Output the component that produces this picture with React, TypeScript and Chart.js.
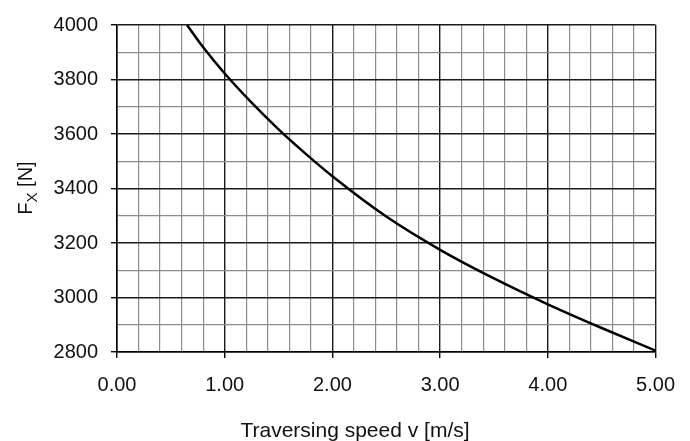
import React, { useEffect, useRef } from "react";
import { Chart, registerables } from "chart.js";

Chart.register(...registerables);

const speedV = [0.65, 0.8, 1.0, 1.25, 1.5, 1.75, 2.0, 2.5, 3.0, 3.5, 4.0, 4.5, 5.0];
const forceFx = [4000, 3918, 3822, 3715, 3617, 3528, 3445, 3297, 3175, 3070, 2975, 2888, 2805];

const xMin = 0;
const xMax = 5;
const xStep = 0.2;
const yMin = 2800;
const yMax = 4000;
const yStep = 100;
const yLabelStep = 200;

const xTitle = "Traversing speed v [m/s]";
const yTitleMain = "F";
const yTitleSub = "X";
const yTitleRest = " [N]";

const FONT = "'Liberation Sans', Arial, Helvetica, sans-serif";
const TEXT = "#111";
const MAJOR = "#1a1a1a";
const MINOR = "#8c8c8c";

const isInt = (v: number) => Math.abs(v - Math.round(v)) < 1e-6;
const isYMajor = (v: number) => Math.abs(v / yLabelStep - Math.round(v / yLabelStep)) < 1e-6;

const titlesPlugin = {
  id: "titles",
  afterDraw(chart: any) {
    const ctx = chart.ctx as CanvasRenderingContext2D;
    ctx.save();
    ctx.fillStyle = TEXT;
    // x title
    ctx.font = `21px ${FONT}`;
    ctx.textAlign = "center";
    ctx.textBaseline = "alphabetic";
    ctx.fillText(xTitle, 355, 437);
    // y title with subscript
    ctx.translate(32, 188);
    ctx.rotate(-Math.PI / 2);
    const big = `20px ${FONT}`;
    const small = `15px ${FONT}`;
    ctx.font = big;
    const wF = ctx.measureText(yTitleMain).width;
    const wR = ctx.measureText(yTitleRest).width;
    ctx.font = small;
    const wS = ctx.measureText(yTitleSub).width;
    const total = wF + wS + wR;
    let x = -total / 2;
    ctx.textAlign = "left";
    ctx.font = big;
    ctx.fillText(yTitleMain, x, 0);
    x += wF;
    ctx.font = small;
    ctx.fillText(yTitleSub, x, 5);
    x += wS;
    ctx.font = big;
    ctx.fillText(yTitleRest, x, 0);
    ctx.restore();
  },
};

export default function App() {
  const ref = useRef<HTMLCanvasElement | null>(null);
  useEffect(() => {
    if (!ref.current) return;
    const chart = new Chart(ref.current, {
      type: "line",
      data: {
        datasets: [
          {
            data: speedV.map((v, i) => ({ x: v, y: forceFx[i] })),
            borderColor: "#000",
            borderWidth: 2.5,
            pointRadius: 0,
            cubicInterpolationMode: "monotone",
            fill: false,
          },
        ],
      },
      options: {
        animation: false,
        responsive: false,
        layout: { padding: { top: 22, right: 32, left: 0, bottom: 0 } },
        plugins: { legend: { display: false }, tooltip: { enabled: false } },
        scales: {
          x: {
            type: "linear",
            min: xMin,
            max: xMax,
            afterFit: (s: any) => {
              s.height = 89;
            },
            border: { display: true, color: "#000", width: 1.5 },
            grid: {
              color: (c: any) => (isInt(c.tick.value) ? MAJOR : MINOR),
              lineWidth: (c: any) => (isInt(c.tick.value) ? 1.4 : 1.2),
              tickColor: (c: any) => (isInt(c.tick.value) ? "#000" : "rgba(0,0,0,0)"),
              tickLength: 6,
            },
            ticks: {
              stepSize: xStep,
              autoSkip: false,
              maxRotation: 0,
              padding: 15,
              color: TEXT,
              font: { family: FONT, size: 20 },
              callback: (v: any) => (isInt(Number(v)) ? Number(v).toFixed(2) : ""),
            },
          },
          y: {
            type: "linear",
            min: yMin,
            max: yMax,
            afterFit: (s: any) => {
              s.width = 117;
            },
            border: { display: true, color: "#000", width: 1.5 },
            grid: {
              color: (c: any) => (isYMajor(c.tick.value) ? MAJOR : MINOR),
              lineWidth: (c: any) => (isYMajor(c.tick.value) ? 1.4 : 1.2),
              tickColor: (c: any) => (isYMajor(c.tick.value) ? "#000" : "rgba(0,0,0,0)"),
              tickLength: 6,
            },
            ticks: {
              stepSize: yStep,
              autoSkip: false,
              padding: 13,
              color: TEXT,
              font: { family: FONT, size: 20 },
              callback: (v: any) => (isYMajor(Number(v)) ? String(v) : ""),
            },
          },
        },
      },
      plugins: [titlesPlugin],
    } as any);
    return () => chart.destroy();
  }, []);
  return (
    <div style={{ position: "absolute", left: 0, top: 0, width: 690, height: 441, background: "#fff" }}>
      <canvas ref={ref} width={690} height={441} style={{ display: "block" }} />
    </div>
  );
}
